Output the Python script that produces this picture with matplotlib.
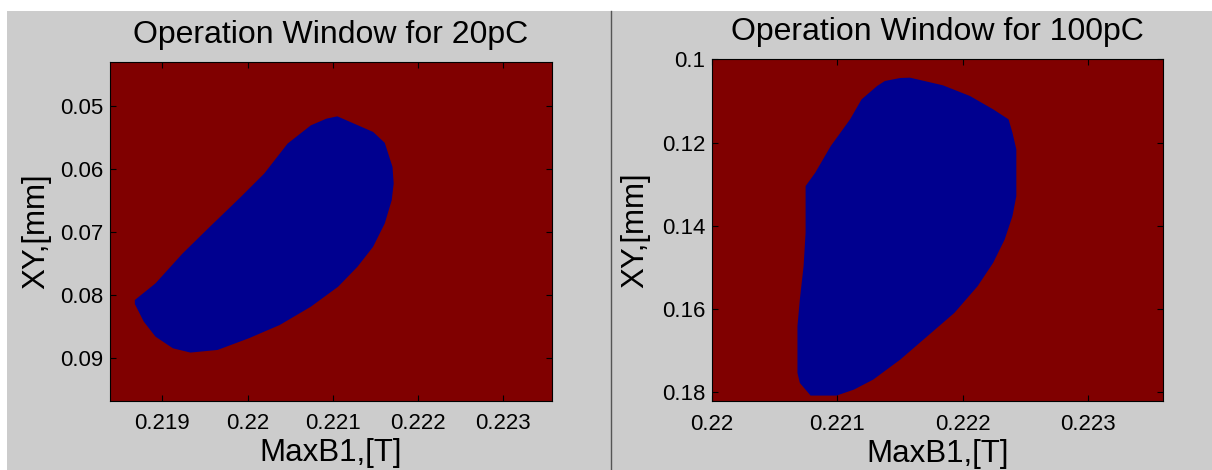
import numpy as np
import matplotlib.pyplot as plt
from matplotlib.patches import Rectangle
from matplotlib.lines import Line2D

plt.rcParams['font.family'] = ['Liberation Sans', 'DejaVu Sans']

# Boundary of the operating window (blue region), 20pC case
b1_20 = [0.221055, 0.221475, 0.221612, 0.221703, 0.221717, 0.221694, 0.221612,
         0.221475, 0.221292, 0.221064, 0.220744, 0.220379, 0.220014, 0.219648,
         0.219329, 0.219123, 0.218918, 0.218781, 0.218676, 0.218676, 0.218918,
         0.219237, 0.219557, 0.219922, 0.220196, 0.220470, 0.220744, 0.220927]
xy_20 = [0.05159, 0.05407, 0.05580, 0.05963, 0.06228, 0.06492, 0.06862,
         0.07233, 0.07550, 0.07868, 0.08185, 0.08476, 0.08688, 0.08873,
         0.08915, 0.08847, 0.08661, 0.08423, 0.08143, 0.08079, 0.07815,
         0.07339, 0.06915, 0.06439, 0.06069, 0.05593, 0.05302, 0.05196]

# Boundary of the operating window, 100pC case
b1_100 = [0.221580, 0.221843, 0.222059, 0.222244, 0.222367, 0.222398, 0.222429,
          0.222429, 0.222398, 0.222336, 0.222244, 0.222120, 0.221935, 0.221719,
          0.221503, 0.221287, 0.221133, 0.220994, 0.220787, 0.220701, 0.220682,
          0.220682, 0.220701, 0.220731, 0.220747, 0.220747, 0.220824, 0.220948,
          0.221102, 0.221194, 0.221318, 0.221380, 0.221503]
xy_100 = [0.10441, 0.10625, 0.10882, 0.11202, 0.11443, 0.11764, 0.12164,
          0.13287, 0.13768, 0.14329, 0.14890, 0.15451, 0.16092, 0.16653,
          0.17214, 0.17695, 0.17936, 0.18080, 0.18080, 0.17776, 0.17535,
          0.16413, 0.15772, 0.14970, 0.14168, 0.13046, 0.12725, 0.12084,
          0.11443, 0.10962, 0.10641, 0.10521, 0.10449]

xticks_20 = [0.219, 0.22, 0.221, 0.222, 0.223]
yticks_20 = [0.05, 0.06, 0.07, 0.08, 0.09]
xticks_100 = [0.22, 0.221, 0.222, 0.223]
yticks_100 = [0.1, 0.12, 0.14, 0.16, 0.18]

RED = '#800000'
BLUE = '#00008f'
GRAY = '#cccccc'

fig = plt.figure(figsize=(12.12, 4.70), dpi=100, facecolor='white')
fig.patches.append(Rectangle((7 / 1212, 0), 1 - 7 / 1212, 1 - 11 / 470,
                             transform=fig.transFigure, facecolor=GRAY,
                             edgecolor='none', zorder=-10))
fig.lines.append(Line2D([611 / 1212, 611 / 1212], [0, 1 - 11 / 470],
                        transform=fig.transFigure, color='#555555', lw=1))


def panel(rect, bx, by, xt, yt, xlim, ylim, title, ylpad):
    ax = fig.add_axes(rect)
    ax.set_facecolor(RED)
    ax.fill(bx, by, color=BLUE, lw=0)
    ax.set_xlim(*xlim)
    ax.set_ylim(*ylim)
    ax.set_xticks(xt)
    ax.set_yticks(yt)
    ax.set_xticklabels([f'{v:g}' for v in xt])
    ax.set_yticklabels([f'{v:g}' for v in yt])
    ax.tick_params(direction='in', length=4, width=0.8, top=True, right=True,
                   labelsize=16, colors='black')
    ax.tick_params(axis='x', pad=9)
    ax.tick_params(axis='y', pad=5)
    for s in ax.spines.values():
        s.set_linewidth(0.8)
    ax.set_title(title, fontsize=23, pad=14)
    ax.set_xlabel('MaxB1,[T]', fontsize=22.5, labelpad=3)
    ax.set_ylabel('XY,[mm]', fontsize=22.5, labelpad=ylpad)
    return ax


panel([110 / 1212, 1 - 400.7 / 470, 442 / 1212, 338.4 / 470], b1_20, xy_20,
      xticks_20, yticks_20, (0.218384, 0.223577), (0.0968, 0.0430),
      'Operation Window for 20pC', 6)
panel([712 / 1212, 1 - 401 / 470, 451.3 / 1212, 341.7 / 470], b1_100, xy_100,
      xticks_100, yticks_100, (0.22, 0.223602), (0.1821, 0.1),
      'Operation Window for 100pC', 8)

fig.savefig('out.png', dpi=100, facecolor=fig.get_facecolor())
